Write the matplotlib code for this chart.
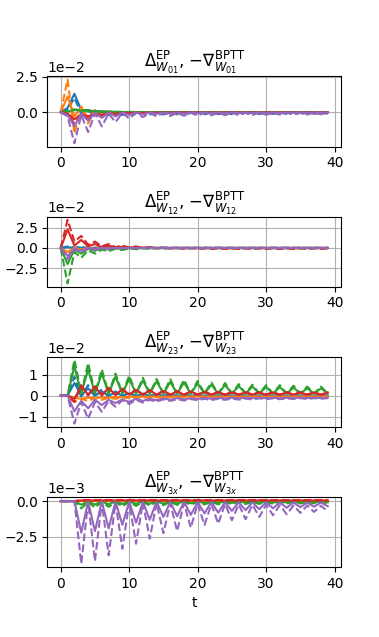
import numpy as np
import matplotlib

matplotlib.use("Agg")
import matplotlib.pyplot as plt

t = np.arange(40)

COLORS = ["C0", "C1", "C2", "C3", "C4"]

# -------------------------------------------------
# W_01 (units of 1e-2)
# -------------------------------------------------
ep_01 = [
    [0, 0.3, 1.3, 0.15, 0.15, 0.05, 0.05, 0.02, 0.02, 0,
     0, 0, 0, 0, 0, 0, 0, 0, 0, 0,
     0, 0, 0, 0, 0, 0, 0, 0, 0, 0,
     0, 0, 0, 0, 0, 0, 0, 0, 0, 0],
    [0, 1.1, -0.3, 0.3, -0.4, 0.1, -0.2, 0.05, -0.1, 0.0,
     -0.05, 0, -0.03, 0, -0.02, 0, 0, 0, 0, 0,
     0, 0, 0, 0, 0, 0, 0, 0, 0, 0,
     0, 0, 0, 0, 0, 0, 0, 0, 0, 0],
    [0, 0.05, 0.15, 0.1, 0.1, 0.05, 0.05, 0.02, 0.02, 0.01,
     0, 0, 0, 0, 0, 0, 0, 0, 0, 0,
     0, 0, 0, 0, 0, 0, 0, 0, 0, 0,
     0, 0, 0, 0, 0, 0, 0, 0, 0, 0],
    [0, -0.1, -0.5, -0.15, -0.3, -0.1, -0.2, -0.05, -0.12, -0.04,
     -0.08, -0.03, -0.06, -0.03, -0.05, -0.02, -0.04, -0.02, -0.03, -0.02,
     -0.03, -0.02, -0.03, -0.02, -0.03, -0.02, -0.03, -0.02, -0.03, -0.02,
     -0.03, -0.02, -0.03, -0.02, -0.03, -0.02, -0.03, -0.02, -0.03, -0.02],
    [0, -0.2, -1.0, -0.1, -0.6, -0.05, -0.4, -0.02, -0.3, -0.02,
     -0.2, -0.02, -0.15, -0.02, -0.12, -0.02, -0.1, -0.02, -0.1, -0.02,
     -0.08, -0.02, -0.08, -0.02, -0.07, -0.02, -0.07, -0.02, -0.06, -0.02,
     -0.06, -0.02, -0.06, -0.02, -0.05, -0.02, -0.05, -0.02, -0.05, -0.02],
]
bptt_01 = [
    [0, 0.2, 1.0, -0.1, 0.1, -0.2, 0.0, -0.2, -0.05, -0.2,
     -0.05, -0.18, -0.05, -0.17, -0.05, -0.16, -0.05, -0.15, -0.05, -0.15,
     -0.05, -0.15, -0.05, -0.14, -0.05, -0.14, -0.05, -0.13, -0.05, -0.13,
     -0.05, -0.12, -0.05, -0.12, -0.05, -0.12, -0.05, -0.11, -0.05, -0.11],
    [0, 2.3, -1.5, 0.4, -0.8, 0.15, -0.35, 0.05, -0.2, 0.0,
     -0.1, -0.02, -0.08, -0.02, -0.06, -0.02, -0.05, -0.02, -0.05, -0.02,
     -0.04, -0.02, -0.04, -0.02, -0.04, -0.02, -0.04, -0.02, -0.03, -0.02,
     -0.03, -0.02, -0.03, -0.02, -0.03, -0.02, -0.03, -0.02, -0.03, -0.02],
    [0, 0.1, 0.2, 0.15, 0.12, 0.08, 0.05, 0.04, 0.03, 0.02,
     0.02, 0.01, 0, 0, 0, 0, 0, 0, 0, 0,
     0, 0, 0, 0, 0, 0, 0, 0, 0, 0,
     0, 0, 0, 0, 0, 0, 0, 0, 0, 0],
    [0, -0.2, -0.8, -0.2, -0.5, -0.15, -0.3, -0.1, -0.2, -0.05,
     -0.12, -0.05, -0.1, -0.05, -0.08, -0.04, -0.07, -0.04, -0.06, -0.04,
     -0.06, -0.04, -0.06, -0.04, -0.05, -0.04, -0.05, -0.04, -0.05, -0.04,
     -0.05, -0.04, -0.05, -0.04, -0.05, -0.04, -0.05, -0.04, -0.05, -0.04],
    [0, -0.3, -2.2, -0.2, -1.4, -0.1, -1.0, -0.1, -0.7, -0.05,
     -0.45, -0.05, -0.35, -0.05, -0.3, -0.05, -0.27, -0.05, -0.25, -0.05,
     -0.23, -0.05, -0.22, -0.05, -0.21, -0.05, -0.2, -0.05, -0.19, -0.05,
     -0.18, -0.05, -0.17, -0.05, -0.17, -0.05, -0.16, -0.05, -0.15, -0.05],
]

# -------------------------------------------------
# W_12 (units of 1e-2)
# -------------------------------------------------
ep_12 = [
    [0, 0.1, 0, 0.05, 0, 0.02, 0, 0, 0, 0,
     0, 0, 0, 0, 0, 0, 0, 0, 0, 0,
     0, 0, 0, 0, 0, 0, 0, 0, 0, 0,
     0, 0, 0, 0, 0, 0, 0, 0, 0, 0],
    [0, -0.5, 0.0, -0.2, 0, -0.1, 0, -0.05, 0, 0,
     0, 0, 0, 0, 0, 0, 0, 0, 0, 0,
     0, 0, 0, 0, 0, 0, 0, 0, 0, 0,
     0, 0, 0, 0, 0, 0, 0, 0, 0, 0],
    [0, -2.0, -0.2, -0.7, -0.1, -0.35, -0.05, -0.2, -0.02, -0.1,
     -0.02, -0.05, 0, -0.02, 0, 0, 0, 0, 0, 0,
     0, 0, 0, 0, 0, 0, 0, 0, 0, 0,
     0, 0, 0, 0, 0, 0, 0, 0, 0, 0],
    [0, 2.3, 0.3, 1.0, 0.2, 0.5, 0.1, 0.3, 0.05, 0.15,
     0.05, 0.1, 0.02, 0.05, 0, 0.02, 0, 0, 0, 0,
     0, 0, 0, 0, 0, 0, 0, 0, 0, 0,
     0, 0, 0, 0, 0, 0, 0, 0, 0, 0],
    [0, -1.0, -0.1, -0.35, 0, -0.15, 0, -0.05, 0, 0,
     0, 0, 0, 0, 0, 0, 0, 0, 0, 0,
     0, 0, 0, 0, 0, 0, 0, 0, 0, 0,
     0, 0, 0, 0, 0, 0, 0, 0, 0, 0],
]
bptt_12 = [
    [0, 0.2, 0.05, 0.1, 0.02, 0.05, 0.02, 0.04, 0.02, 0.04,
     0.02, 0.04, 0.02, 0.04, 0.03, 0.05, 0.03, 0.05, 0.03, 0.05,
     0.03, 0.05, 0.03, 0.05, 0.03, 0.05, 0.03, 0.05, 0.03, 0.05,
     0.03, 0.05, 0.03, 0.05, 0.03, 0.05, 0.03, 0.05, 0.03, 0.05],
    [0, -0.8, -0.1, -0.3, -0.05, -0.15, 0, -0.08, 0, -0.05,
     0, 0.02, 0, 0.03, 0, 0.03, 0, 0.03, 0, 0.03,
     0, 0.03, 0, 0.03, 0, 0.03, 0, 0.03, 0, 0.03,
     0, 0.03, 0, 0.03, 0, 0.03, 0, 0.03, 0, 0.03],
    [0, -4.4, -0.5, -1.2, -0.3, -0.7, -0.2, -0.4, -0.1, -0.25,
     -0.05, -0.15, -0.05, -0.1, -0.05, -0.08, -0.03, -0.05, -0.03, -0.05,
     -0.03, -0.05, -0.03, -0.05, -0.03, -0.05, -0.03, -0.05, -0.03, -0.05,
     -0.03, -0.05, -0.03, -0.05, -0.03, -0.05, -0.03, -0.05, -0.03, -0.05],
    [0, 3.5, 0.8, 1.5, 0.4, 0.8, 0.2, 0.5, 0.1, 0.3,
     0.05, 0.2, 0.0, 0.1, -0.05, 0.05, -0.08, 0, -0.1, -0.02,
     -0.12, -0.05, -0.12, -0.05, -0.12, -0.05, -0.12, -0.05, -0.12, -0.05,
     -0.12, -0.05, -0.12, -0.05, -0.12, -0.05, -0.12, -0.05, -0.12, -0.05],
    [0, -1.4, -0.2, -0.5, -0.1, -0.25, -0.05, -0.12, -0.03, -0.06,
     0, -0.03, 0, 0, 0, 0, 0, 0, 0, 0,
     0, 0, 0, 0, 0, 0, 0, 0, 0, 0,
     0, 0, 0, 0, 0, 0, 0, 0, 0, 0],
]

# -------------------------------------------------
# W_23 (units of 1e-2)
# -------------------------------------------------
ep_23 = [
    [0, 0, 0.6, 0, 0.35, 0, 0.2, 0, 0.15, 0,
     0.1, 0, 0.07, 0, 0.05, 0, 0.04, 0, 0.03, 0,
     0.03, 0, 0.03, 0, 0.03, 0, 0.03, 0, 0.03, 0,
     0.03, 0, 0.03, 0, 0.03, 0, 0.03, 0, 0.03, 0],
    [0, 0, -0.1, -0.15, -0.1, -0.12, -0.08, -0.1, -0.06, -0.08,
     -0.05, -0.06, -0.05, -0.05, -0.04, -0.05, -0.04, -0.04, -0.04, -0.04,
     -0.04, -0.04, -0.04, -0.04, -0.04, -0.04, -0.04, -0.04, -0.04, -0.04,
     -0.04, -0.04, -0.04, -0.04, -0.04, -0.04, -0.04, -0.04, -0.04, -0.04],
    [0, 0, 1.4, 0.1, 1.25, 0.1, 1.05, 0.1, 0.9, 0.1,
     0.8, 0.1, 0.72, 0.1, 0.68, 0.1, 0.65, 0.1, 0.62, 0.1,
     0.58, 0.1, 0.52, 0.1, 0.5, 0.1, 0.45, 0.1, 0.43, 0.1,
     0.41, 0.1, 0.4, 0.1, 0.38, 0.1, 0.35, 0.1, 0.35, 0.1],
    [0, 0, -0.15, 0.45, 0.05, 0.4, 0.05, 0.35, 0.05, 0.3,
     0.05, 0.28, 0.05, 0.25, 0.05, 0.22, 0.05, 0.2, 0.05, 0.2,
     0.05, 0.18, 0.05, 0.17, 0.05, 0.16, 0.05, 0.16, 0.05, 0.15,
     0.05, 0.15, 0.05, 0.15, 0.05, 0.15, 0.05, 0.15, 0.05, 0.15],
    [0, 0, -0.75, -0.25, -0.6, -0.2, -0.45, -0.2, -0.35, -0.18,
     -0.3, -0.15, -0.25, -0.15, -0.22, -0.13, -0.2, -0.12, -0.18, -0.12,
     -0.16, -0.11, -0.15, -0.11, -0.14, -0.1, -0.13, -0.1, -0.12, -0.1,
     -0.12, -0.1, -0.12, -0.1, -0.11, -0.1, -0.11, -0.1, -0.11, -0.1],
]
bptt_23 = [
    [0, 0, 0.9, -0.05, 0.5, -0.05, 0.3, -0.05, 0.2, -0.03,
     0.15, -0.03, 0.1, -0.02, 0.08, -0.02, 0.06, -0.02, 0.05, -0.02,
     0.04, -0.02, 0.04, -0.02, 0.04, -0.02, 0.04, -0.02, 0.04, -0.02,
     0.04, -0.02, 0.04, -0.02, 0.04, -0.02, 0.04, -0.02, 0.04, -0.02],
    [0, 0, -0.3, -0.15, -0.25, -0.12, -0.2, -0.1, -0.15, -0.08,
     -0.12, -0.08, -0.1, -0.07, -0.09, -0.07, -0.08, -0.06, -0.08, -0.06,
     -0.07, -0.06, -0.07, -0.06, -0.07, -0.06, -0.06, -0.06, -0.06, -0.06,
     -0.06, -0.06, -0.06, -0.06, -0.06, -0.06, -0.06, -0.06, -0.06, -0.06],
    [0, 0, 1.7, 0.1, 1.55, 0.1, 1.25, 0.1, 1.05, 0.1,
     0.95, 0.1, 0.85, 0.1, 0.8, 0.1, 0.78, 0.1, 0.75, 0.1,
     0.7, 0.1, 0.63, 0.1, 0.6, 0.1, 0.55, 0.1, 0.52, 0.1,
     0.5, 0.1, 0.5, 0.1, 0.47, 0.1, 0.43, 0.1, 0.43, 0.1],
    [0, 0, -0.3, 0.5, 0.0, 0.45, 0.0, 0.38, 0.02, 0.33,
     0.02, 0.3, 0.03, 0.27, 0.03, 0.24, 0.04, 0.22, 0.04, 0.2,
     0.04, 0.19, 0.04, 0.18, 0.04, 0.18, 0.04, 0.17, 0.04, 0.17,
     0.04, 0.17, 0.04, 0.17, 0.04, 0.17, 0.04, 0.17, 0.04, 0.17],
    [0, 0, -1.33, -0.3, -1.1, -0.3, -0.77, -0.25, -0.53, -0.22,
     -0.4, -0.2, -0.33, -0.2, -0.28, -0.18, -0.25, -0.17, -0.23, -0.16,
     -0.22, -0.15, -0.21, -0.15, -0.2, -0.14, -0.19, -0.14, -0.18, -0.13,
     -0.17, -0.13, -0.17, -0.13, -0.16, -0.12, -0.16, -0.12, -0.15, -0.12],
]

# -------------------------------------------------
# W_3x (units of 1e-3)
# -------------------------------------------------
ep_3x = [
    [0] * 40,
    [0] * 40,
    [0, 0, 0, -0.25, -0.02, -0.24, -0.02, -0.22, -0.02, -0.2,
     -0.02, -0.19, -0.02, -0.18, -0.02, -0.17, -0.02, -0.16, -0.02, -0.15,
     -0.02, -0.14, -0.02, -0.13, -0.02, -0.12, -0.02, -0.11, -0.02, -0.1,
     -0.02, -0.1, -0.02, -0.09, -0.02, -0.09, -0.02, -0.08, -0.02, -0.08],
    [0, 0, 0, 0.05, 0.05, 0.05, 0.05, 0.05, 0.05, 0.05,
     0.05, 0.05, 0.05, 0.05, 0.05, 0.05, 0.05, 0.05, 0.05, 0.05,
     0.05, 0.05, 0.05, 0.05, 0.05, 0.05, 0.05, 0.05, 0.05, 0.05,
     0.05, 0.05, 0.05, 0.05, 0.05, 0.05, 0.05, 0.05, 0.05, 0.05],
    [0, 0, 0, -2.2, -0.02, -2.1, -0.02, -1.9, -0.03, -1.65,
     -0.03, -1.5, -0.04, -1.3, -0.04, -1.1, -0.05, -1.05, -0.05, -0.95,
     -0.06, -0.85, -0.06, -0.8, -0.07, -0.68, -0.07, -0.63, -0.08, -0.56,
     -0.08, -0.5, -0.09, -0.46, -0.09, -0.42, -0.1, -0.38, -0.1, -0.35],
]
bptt_3x = [
    [0] * 40,
    [0] * 40,
    [0, 0, 0, -0.5, -0.05, -0.45, -0.05, -0.4, -0.05, -0.36,
     -0.05, -0.33, -0.05, -0.3, -0.05, -0.28, -0.05, -0.26, -0.05, -0.24,
     -0.05, -0.23, -0.05, -0.22, -0.05, -0.21, -0.05, -0.2, -0.05, -0.19,
     -0.05, -0.18, -0.05, -0.17, -0.05, -0.16, -0.05, -0.15, -0.05, -0.15],
    [0, 0, 0, 0.08, 0.08, 0.08, 0.08, 0.08, 0.08, 0.08,
     0.08, 0.08, 0.08, 0.08, 0.08, 0.08, 0.08, 0.08, 0.08, 0.08,
     0.08, 0.08, 0.08, 0.08, 0.08, 0.08, 0.08, 0.08, 0.08, 0.08,
     0.08, 0.08, 0.08, 0.08, 0.08, 0.08, 0.08, 0.08, 0.08, 0.08],
    [0, 0, 0, -4.37, -0.05, -4.18, -0.05, -3.78, -0.08, -3.32,
     -0.1, -2.97, -0.1, -2.62, -0.12, -2.24, -0.15, -2.08, -0.15, -1.85,
     -0.18, -1.66, -0.2, -1.57, -0.2, -1.33, -0.22, -1.26, -0.25, -1.1,
     -0.25, -0.98, -0.28, -0.91, -0.3, -0.82, -0.3, -0.75, -0.32, -0.7],
]

panels = [
    ("01", ep_01, bptt_01, 1e-2),
    ("12", ep_12, bptt_12, 1e-2),
    ("23", ep_23, bptt_23, 1e-2),
    ("3x", ep_3x, bptt_3x, 1e-3),
]

fig, axes = plt.subplots(4, 1, figsize=(3.79, 6.37))
plt.subplots_adjust(hspace=1.0)

for ax, (name, ep, bptt, scale) in zip(axes, panels):
    for color, ep_line, bptt_line in zip(COLORS, ep, bptt):
        ax.plot(t, np.array(ep_line) * scale, color=color, linestyle="-")
        ax.plot(t, np.array(bptt_line) * scale, color=color, linestyle="--")
    ax.set_title(
        r"$\Delta^{\mathrm{EP}}_{W_{%s}}$, $-\nabla^{\mathrm{BPTT}}_{W_{%s}}$"
        % (name, name)
    )
    ax.ticklabel_format(axis="y", style="sci", scilimits=(0, 0))
    ax.grid(True)

axes[-1].set_xlabel("t")

plt.savefig("out.png", dpi=100)
plt.close()
